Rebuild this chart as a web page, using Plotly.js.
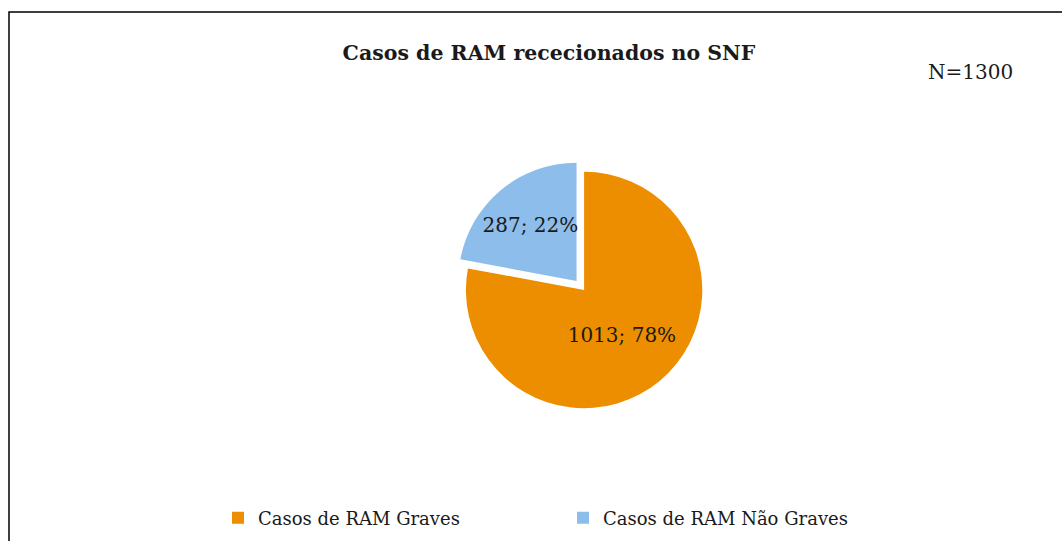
<!DOCTYPE html>
<html>
<head>
<meta charset="utf-8">
<script src="https://cdn.plot.ly/plotly-3.0.1.min.js"></script>
<style>html,body{margin:0;padding:0;background:#fff;}#chart{width:1062px;height:541px;}</style>
</head>
<body>
<div id="chart"></div>
<script>
var categories = ["Casos de RAM Graves", "Casos de RAM Não Graves"];
var values = [1013, 287];
var sliceColors = ["#EC8E00", "#8DBDEB"];
var chartTitle = "Casos de RAM rececionados no SNF";
var totalLabel = "N=1300";

var W = 1062, H = 541;
var trace = {
  type: "pie",
  labels: categories,
  values: values,
  sort: false,
  direction: "clockwise",
  rotation: 0,
  pull: [0, 0.1],
  marker: {colors: sliceColors, line: {color: "#ffffff", width: 0}},
  texttemplate: "%{value}; %{percent:.0%}",
  textposition: "inside",
  insidetextorientation: "horizontal",
  textfont: {family: "DejaVu Serif", size: 20, color: "#1a1a1a"},
  hoverinfo: "label+value+percent",
  domain: {x: [0.35, 0.75], y: [(H - 420) / H, (H - 160) / H]}
};

var layout = {
  width: W, height: H,
  margin: {l: 0, r: 0, t: 0, b: 0},
  paper_bgcolor: "#ffffff",
  showlegend: true,
  uniformtext: {mode: "show", minsize: 20},
  title: {
    text: "<b>" + chartTitle + "</b>",
    font: {family: "DejaVu Serif", size: 20.5, color: "#1a1a1a"},
    x: 549 / W, xanchor: "center",
    y: 1 - 53 / H, yanchor: "middle"
  },
  legend: {
    orientation: "h",
    x: 218 / W, xanchor: "left",
    y: 1 - 518 / H, yanchor: "middle",
    font: {family: "DejaVu Serif", size: 18, color: "#1a1a1a"},
    entrywidth: 300,
    itemwidth: 30
  },
  annotations: [{
    text: totalLabel,
    xref: "paper", yref: "paper",
    x: 970 / W, y: 1 - 72 / H,
    xanchor: "center", yanchor: "middle",
    showarrow: false,
    font: {family: "DejaVu Serif", size: 20, color: "#1a1a1a"}
  }],
  shapes: [{
    type: "rect", xref: "paper", yref: "paper",
    x0: 9 / W, x1: 1.02, y0: -0.02, y1: 1 - 12 / H,
    line: {color: "#000000", width: 1.5}
  }]
};

Plotly.newPlot("chart", [trace], layout, {displayModeBar: false, staticPlot: true});
</script>
</body>
</html>
